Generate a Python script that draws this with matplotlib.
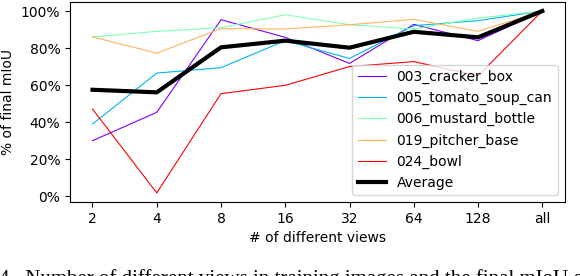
import numpy as np
import matplotlib
matplotlib.use('Agg')
import matplotlib.pyplot as plt
from matplotlib.ticker import PercentFormatter

# number of views (x categories)
views = ['2', '4', '8', '16', '32', '64', '128', 'all']

# % of final mIoU per object
cracker_box = [30.0, 45.3, 95.3, 85.8, 71.7, 92.8, 84.0, 100]
tomato_soup_can = [39.0, 66.5, 69.4, 84.0, 74.4, 92.1, 94.8, 100]
mustard_bottle = [86.0, 89.0, 91.0, 98.0, 92.6, 90.3, 96.2, 100]
pitcher_base = [86.0, 77.3, 90.5, 90.3, 92.6, 95.5, 89.0, 100]
bowl = [47.1, 1.8, 55.4, 59.9, 70.0, 72.7, 65.0, 100]
average = [57.5, 56.1, 80.4, 84.0, 80.2, 88.8, 85.8, 100]

names = ['003_cracker_box', '005_tomato_soup_can', '006_mustard_bottle',
         '019_pitcher_base', '024_bowl']
series = [cracker_box, tomato_soup_can, mustard_bottle, pitcher_base, bowl]

fig = plt.figure(figsize=(5.8, 2.76), dpi=100)
ax = fig.add_axes([0.1207, 0.268, 0.853, 0.725])

cols = plt.cm.rainbow(np.linspace(0, 1, len(series)))
x = np.arange(len(views))
for s, n, c in zip(series, names, cols):
    ax.plot(x, s, color=c, lw=0.8, label=n)
ax.plot(x, average, color='black', lw=3, label='Average')

ax.set_xticks(x)
ax.set_xticklabels(views)
ax.yaxis.set_major_formatter(PercentFormatter(decimals=0))
ax.set_xlabel('# of different views')
ax.set_ylabel('% of final mIoU')
ax.legend(loc='lower right')

# caption of the figure, mostly cut off at the bottom
fig.text(-0.002, -0.03, '4.  Number of different views in training images and the final mIoU of objects',
         family='Liberation Serif', fontsize=15, va='baseline', ha='left')

fig.savefig('out.png', dpi=100)
